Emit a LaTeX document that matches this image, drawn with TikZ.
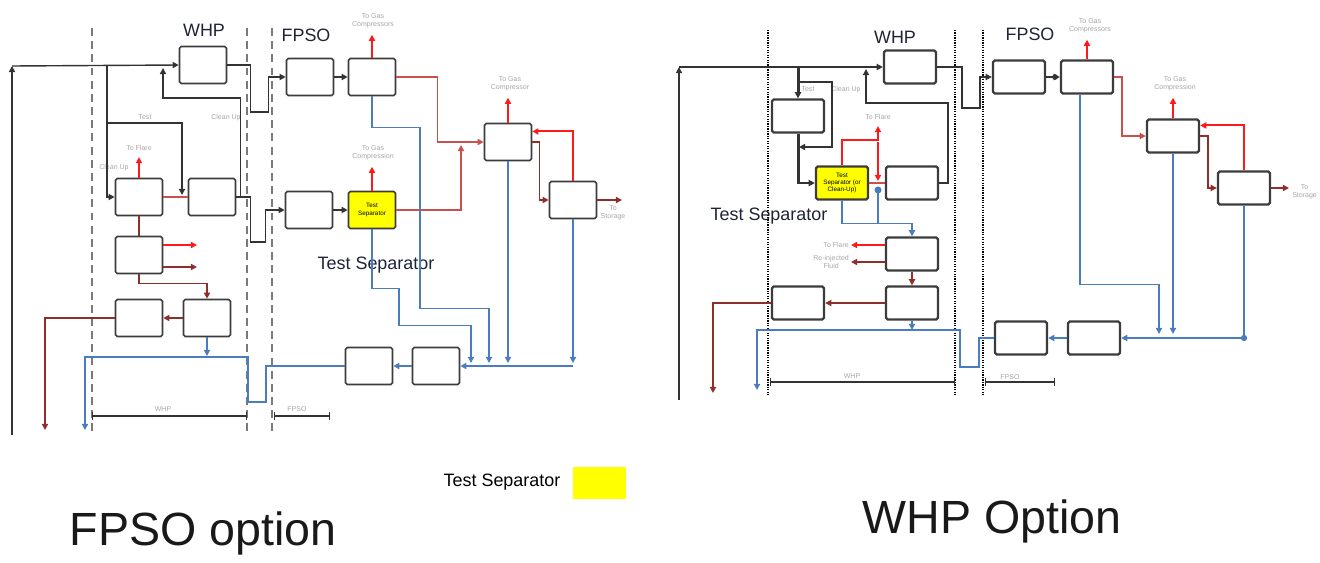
\documentclass[tikz,border=0pt]{standalone}
\usepackage{fontspec}
\setmainfont{Liberation Sans}
\usetikzlibrary{arrows.meta}
\definecolor{procGasRed}{HTML}{FF1A1A}
\definecolor{procLineRed}{HTML}{C9504C}
\definecolor{procOilRed}{HTML}{8E2F2B}
\definecolor{procWaterBlue}{HTML}{4A7CC0}
\definecolor{procLineGray}{HTML}{333333}
\definecolor{procBoxGray}{HTML}{3C3C3C}
\definecolor{procBoundGray}{HTML}{7A7A7A}
\definecolor{procTitleNavy}{HTML}{1E2335}
\definecolor{procYellow}{HTML}{FFFF00}
\tikzset{
    pbox/.style={draw=procBoxGray, line width=0.9pt, rounded corners=1pt, fill=white, minimum width=0.94cm, minimum height=0.74cm, inner sep=0pt, align=center, font=\fontsize{3.6}{4.2}\selectfont},
    pboxr/.style={pbox, line width=1.3pt, minimum width=1.04cm, minimum height=0.66cm},
    pyellow/.style={pbox, fill=procYellow},
    pyellowr/.style={pboxr, fill=procYellow},
    pline/.style={draw=procLineGray, line width=0.8pt},
    pthick/.style={pline, line width=1.7pt},
    pred/.style={draw=procLineRed, line width=0.9pt},
    pgas/.style={draw=procGasRed, line width=1.1pt},
    pvent/.style={pgas, shorten >=2.5pt},
    poil/.style={draw=procOilRed, line width=0.9pt},
    pwater/.style={draw=procWaterBlue, line width=0.9pt},
    pnote/.style={font=\fontsize{4}{4.6}\selectfont, text=gray!70, align=center, inner sep=1pt},
    ptitle/.style={font=\fontsize{10.2}{12}\selectfont, text=procTitleNavy, inner sep=0pt},
    pcaption/.style={font=\fontsize{26.5}{30}\selectfont, text=black!90, inner sep=0pt},
    pdash/.style={draw=procBoundGray, line width=1.2pt, dash pattern=on 4.5pt off 3pt},
    pdots/.style={draw=black, line width=1.4pt, dash pattern=on 0.7pt off 0.7pt},
    pspan/.style={draw=procLineGray, line width=0.6pt, {Bar[width=4pt]}-{Bar[width=4pt]}}
}

\begin{document}
\begin{tikzpicture}[x=0.2mm, y=-0.2mm, >={Triangle[length=3.5pt,width=3.5pt]}]
    \useasboundingbox (0,0) rectangle (1320,562);

    \foreach \x in {92,247,272}{
        \draw[pdash] (\x,28) -- (\x,432);
    }
    \foreach \x in {768,955,983}{
        \draw[pdots] (\x,30) -- (\x,395);
    }

    % FPSO option
    \node[ptitle] (whpTitleL) at (204,30) {WHP};
    \node[ptitle] (fpsoTitleL) at (306,35) {FPSO};
    \node[ptitle] (testTitleL) at (376,265) {Test Separator};
    \foreach \n/\x/\y in {whpL/203/65, fpsoInL/310/77, hpSepL/372/77, cleanL1/139/197, cleanL2/212/197,
        fpsoInL2/309/210, mpSepL/508/142, lpSepL/573/200, cleanL3/139/255, cleanL4/139/318,
        cleanL5/207/318, waterL1/369/366, waterL2/436/366}{
        \node[pbox] (\n) at (\x,\y) {};
    }
    \node[pyellow] (testSepL) at (372,210) {Test\\Separator};

    \node[pnote] (gasNoteL1) at (373,21) {To Gas\\Compressors};
    \node[pnote] (gasNoteL2) at (373,153) {To Gas\\Compression};
    \node[pnote] (gasNoteL3) at (510,84) {To Gas\\Compressor};
    \node[pnote] (flareNoteL) at (139,148) {To Flare};
    \node[pnote] (testNoteL) at (145,117) {Test};
    \node[pnote] (cleanNoteL1) at (226,118) {Clean Up};
    \node[pnote] (cleanNoteL2) at (114,168) {Clean Up};
    \node[pnote] (storeNoteL) at (613,213) {To\\Storage};
    \node[pnote] (spanNoteL1) at (163,409) {WHP};
    \node[pnote] (spanNoteL2) at (297,409) {FPSO};

    \coordinate (riserL) at (12,435);
    \coordinate (cornerL) at (12,66);
    \coordinate (tapL) at (107,66);
    \coordinate (testTapL) at (107,123);
    \coordinate (testJoinL) at (182,195);
    \coordinate (returnL) at (163,68);
    \coordinate (ventL1) at (197,245);
    \coordinate (drainL1) at (197,267);
    \coordinate (oilOutL) at (45,430);
    \coordinate (waterJoinL) at (207,356);
    \coordinate (waterOutL) at (85,430);
    \coordinate (gasJoinL) at (461,145);
    \coordinate (storeL) at (622,200);
    \coordinate (headL1) at (489,363);
    \coordinate (headL2) at (471,363);
    \coordinate (headL3) at (508,363);
    \coordinate (headL4) at (573,363);
    \coordinate (spanL1) at (92,416);
    \coordinate (spanL2) at (247,416);
    \coordinate (spanL3) at (274,416);
    \coordinate (spanL4) at (330,416);

    \draw[pline,->] (riserL) -- (cornerL);
    \draw[pline,->] (cornerL) -- (whpL.west);
    \draw[pline,->] (tapL) |- (cleanL1.west);
    \draw[pline,->] (testTapL) -| (testJoinL);
    \draw[pline,->] (cleanL2.east) -- ++(4,0) -- ++(0,-99) -| (returnL);
    \draw[pline,->] (whpL.east) -- ++(23,0) -- ++(0,47) -- ++(18,0) |- (fpsoInL.west);
    \draw[pline,->] (cleanL2.east) -- ++(14,0) -- ++(0,45) -- ++(15,0) |- (fpsoInL2.west);
    \draw[pline,->] (fpsoInL) -- (hpSepL);
    \draw[pline,->] (fpsoInL2) -- (testSepL);

    \draw[pred] (cleanL1) -- (cleanL2);
    \draw[pvent,->] (cleanL1) -- (flareNoteL);
    \draw[poil] (cleanL1) -- (cleanL3);
    \draw[pgas,->] (cleanL3.east |- ventL1) -- (ventL1);
    \draw[poil,->] (cleanL3.east |- drainL1) -- (drainL1);
    \draw[poil,->] (cleanL3.south) -- ++(0,9) -| (cleanL5.north);
    \draw[poil,->] (cleanL5) -- (cleanL4);
    \draw[poil,->] (cleanL4.west) -| (oilOutL);
    \draw[pwater,->] (cleanL5) -- (waterJoinL);
    \draw[pwater,->] (waterL1.west) -- ++(-79,0) -- ++(0,36) -- ++(-18,0) -- ++(0,-45) -| (waterOutL);

    \draw[pred,->] (hpSepL.east) -- ++(41,0) |- (mpSepL.west);
    \draw[pred,->] (testSepL.east) -| (gasJoinL);
    \draw[pvent,->] (hpSepL.north) -- (hpSepL.north |- gasNoteL1.south);
    \draw[pvent,->] (testSepL.north) -- (testSepL.north |- gasNoteL2.south);
    \draw[pvent,->] (mpSepL.north) -- (mpSepL.north |- gasNoteL3.south);
    \draw[pgas,->] (lpSepL.north) |- ([yshift=6pt]mpSepL.east);
    \draw[poil,->] (mpSepL.east) -- ++(7,0) |- (lpSepL.west);
    \draw[poil,->] (lpSepL.east) -- (storeL);

    \draw[pwater,->] (hpSepL.south) -- ++(0,31) -- ++(48,0) -- ++(0,181) -| (headL1);
    \draw[pwater,->] (testSepL.south) -- ++(0,59) -- ++(27,0) -- ++(0,37) -| (headL2);
    \draw[pwater,->] (mpSepL.south) -- (headL3);
    \draw[pwater,->] (lpSepL.south) -- (headL4);
    \draw[pwater,->] (headL4 |- waterL2) -- (waterL2);
    \draw[pwater,->] (waterL2) -- (waterL1);

    \draw[pspan] (spanL1) -- (spanL2);
    \draw[pspan] (spanL3) -- (spanL4);

    % WHP option
    \node[ptitle] (whpTitleR) at (895,37) {WHP};
    \node[ptitle] (fpsoTitleR) at (1030,34) {FPSO};
    \node[ptitle] (testTitleR) at (769,216) {Test Separator};
    \foreach \n/\x/\y in {whpR/910/67, fpsoInR/1019/77, hpSepR/1087/77, mpSepR/1173/136, lpSepR/1244/188,
        waterR1/1021/338, waterR2/1094/338, cleanR1/798/116, cleanR2/912/183, cleanR3/912/254,
        cleanR4/912/303, cleanR5/798/303}{
        \node[pboxr] (\n) at (\x,\y) {};
    }
    \node[pyellowr] (testSepR) at (842,183) {Test\\Separator (or\\Clean-Up)};

    \node[pnote] (gasNoteR1) at (1090,26) {To Gas\\Compressors};
    \node[pnote] (gasNoteR2) at (1175,84) {To Gas\\Compression};
    \node[pnote, anchor=west, inner sep=0.5pt] (storeNoteR) at (1291,192) {To\\Storage};
    \node[pnote] (flareNoteR) at (878,117) {To Flare};
    \node[pnote] (testNoteR) at (808,89) {Test};
    \node[pnote] (cleanNoteR) at (846,90) {Clean Up};
    \node[pnote, anchor=east] (flareNoteR2) at (851,245) {To Flare};
    \node[pnote, anchor=east] (drainNoteR) at (851,262) {Re-injected\\Fluid};
    \node[pnote] (spanNoteR1) at (852,376) {WHP};
    \node[pnote] (spanNoteR2) at (1010,377) {FPSO};

    \coordinate (riserR) at (679,400);
    \coordinate (cornerR) at (679,67);
    \coordinate (tapR) at (798,67);
    \coordinate (bypassR) at (798,82);
    \coordinate (bypassEndR) at (799,147);
    \coordinate (returnR) at (866,69);
    \coordinate (ventSplitR) at (878,142);
    \coordinate (ventDownR) at (878,181);
    \coordinate (waterDotR) at (878,190);
    \coordinate (waterMixR) at (878,223);
    \coordinate (oilOutR) at (713,393);
    \coordinate (waterJoinR) at (912,330);
    \coordinate (waterOutR) at (757,390);
    \coordinate (storeR) at (1289,188);
    \coordinate (headR1) at (1159,334);
    \coordinate (headR2) at (1173,334);
    \coordinate (headR3) at (1244,338);
    \coordinate (linkDotR) at (1055,77);
    \coordinate (spanR1) at (770,382);
    \coordinate (spanR2) at (955,382);
    \coordinate (spanR3) at (985,382);
    \coordinate (spanR4) at (1055,382);

    \draw[pline,->] (riserR) -- (cornerR);
    \draw[pline,->] (cornerR) -- (whpR.west);
    \draw[pthick,->] (tapR) -- (cleanR1.north);
    \draw[pline,->] (bypassR) -- ++(34,0) |- (bypassEndR);
    \draw[pthick,->] (cleanR1.south) |- (testSepR.west);
    \draw[pline,->] (cleanR2.east) -- ++(9,0) -- ++(0,-80) -| (returnR);
    \draw[pline,->] (whpR.east) -- ++(25,0) -- ++(0,41) -- ++(18,0) |- (fpsoInR.west);
    \draw[pline,->] (fpsoInR) -- (hpSepR);
    \fill[procLineGray] (linkDotR) circle (1.6pt);

    \draw[pred] (testSepR) -- (cleanR2);
    \draw[pvent,->] (testSepR.north) -- ++(0,-25) -| (flareNoteR.south);
    \draw[pgas,->] (ventSplitR) -- (ventDownR);
    \fill[procWaterBlue] (waterDotR) circle (2pt);
    \draw[pwater] (waterDotR) -- (waterMixR);
    \draw[pwater,->] (testSepR.south) -- ++(0,23) -| (cleanR3.north);
    \draw[pgas,->] (cleanR3.west |- flareNoteR2) -- (flareNoteR2);
    \draw[poil,->] (cleanR3.west |- drainNoteR) -- (drainNoteR);
    \draw[poil,->] (cleanR3) -- (cleanR4);
    \draw[poil,->] (cleanR4) -- (cleanR5);
    \draw[poil,->] (cleanR5.west) -| (oilOutR);
    \draw[pwater,->] (cleanR4) -- (waterJoinR);

    \draw[pvent,->] (hpSepR.north) -- (hpSepR.north |- gasNoteR1.south);
    \draw[pred,->] (hpSepR.east) -- ++(8,0) |- (mpSepR.west);
    \draw[pvent,->] (mpSepR.north) -- (mpSepR.north |- gasNoteR2.south);
    \draw[pgas,->] (lpSepR.north) |- ([yshift=6pt]mpSepR.east);
    \draw[poil,->] (mpSepR.east) -- ++(8,0) |- (lpSepR.west);
    \draw[poil,->] (lpSepR.east) -- (storeR);

    \draw[pwater,->] ([xshift=-4pt]hpSepR.south) -- ++(0,190) -| (headR1);
    \draw[pwater,->] (mpSepR.south) -- (headR2);
    \draw[pwater] (lpSepR.south) -- (headR3);
    \fill[procWaterBlue] (headR3) circle (1.8pt);
    \draw[pwater,->] (headR3) -- (waterR2);
    \draw[pwater,->] (waterR2) -- (waterR1);
    \draw[pwater,->] (waterR1.west) -- ++(-15,0) -- ++(0,29) -- ++(-19,0) -- ++(0,-37) -| (waterOutR);

    \draw[pspan] (spanR1) -- (spanR2);
    \draw[pspan] (spanR3) -- (spanR4);

    % legend and captions
    \node[ptitle, text=black] (legendText) at (502,482) {Test Separator};
    \node[fill=procYellow, minimum width=1.06cm, minimum height=0.64cm, inner sep=0pt] (legendKey) at (599,483) {};
    \node[pcaption] (captionL) at (203,533) {FPSO option};
    \node[pcaption] (captionR) at (992,521) {WHP Option};
\end{tikzpicture}
\end{document}
